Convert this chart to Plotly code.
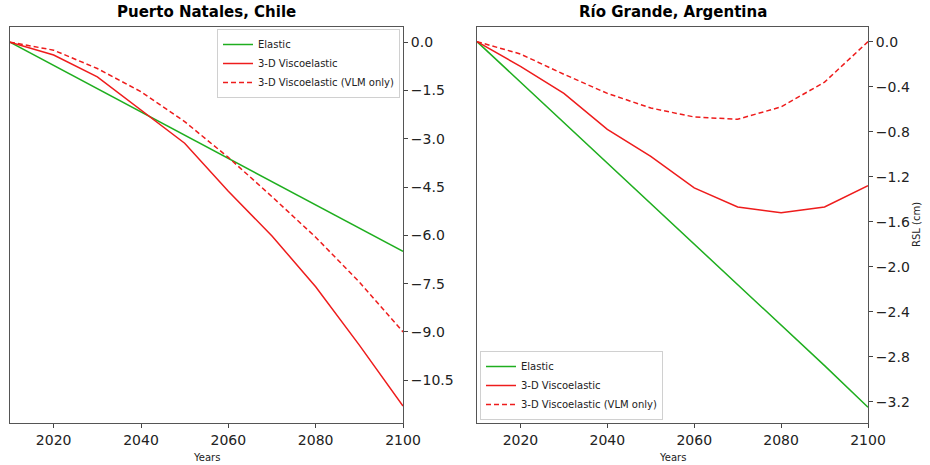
import plotly.graph_objects as go

years = [2010, 2020, 2030, 2040, 2050, 2060, 2070, 2080, 2090, 2100]

# Puerto Natales, Chile
pn_elastic = [0.0, -0.72, -1.44, -2.17, -2.89, -3.61, -4.33, -5.06, -5.78, -6.5]
pn_visco = [0.0, -0.40, -1.08, -2.11, -3.14, -4.63, -6.02, -7.6, -9.41, -11.3]
pn_visco_vlm = [0.0, -0.25, -0.82, -1.54, -2.47, -3.58, -4.8, -6.06, -7.45, -9.0]

# Rio Grande, Argentina
rg_elastic = [0.0, -0.36, -0.72, -1.08, -1.44, -1.80, -2.16, -2.52, -2.88, -3.25]
rg_visco = [0.0, -0.22, -0.46, -0.78, -1.02, -1.30, -1.47, -1.52, -1.47, -1.28]
rg_visco_vlm = [0.0, -0.11, -0.29, -0.46, -0.59, -0.67, -0.69, -0.58, -0.36, 0.0]

names = ["Elastic", "3-D Viscoelastic", "3-D Viscoelastic (VLM only)"]
left_ticks = [0.0, -1.5, -3.0, -4.5, -6.0, -7.5, -9.0, -10.5]
right_ticks = [0.0, -0.4, -0.8, -1.2, -1.6, -2.0, -2.4, -2.8, -3.2]
xticks = [2020, 2040, 2060, 2080, 2100]

GREEN = "#1fae1f"
RED = "#ee1c1c"
FONT = "DejaVu Sans"

fig = go.Figure()

def add_set(el, vi, vl, xa, ya, leg):
    fig.add_trace(go.Scatter(x=years, y=el, mode="lines", name=names[0],
                             line=dict(color=GREEN, width=1.5), xaxis=xa, yaxis=ya, legend=leg))
    fig.add_trace(go.Scatter(x=years, y=vi, mode="lines", name=names[1],
                             line=dict(color=RED, width=1.5), xaxis=xa, yaxis=ya, legend=leg))
    fig.add_trace(go.Scatter(x=years, y=vl, mode="lines", name=names[2],
                             line=dict(color=RED, width=1.5, dash="5px,3px"), xaxis=xa, yaxis=ya, legend=leg))

add_set(pn_elastic, pn_visco, pn_visco_vlm, "x", "y", "legend")
add_set(rg_elastic, rg_visco, rg_visco_vlm, "x2", "y2", "legend2")

W, H = 930, 465

def px(x):
    return x / W

def py(y):
    return 1 - y / H

ydom = [py(423), py(27)]
axis_common = dict(showgrid=False, zeroline=False, showline=True, linecolor="#555555",
                   linewidth=1, mirror=True, ticks="outside", ticklen=4, tickcolor="#444444",
                   automargin=False,
                   tickfont=dict(family=FONT, size=14, color="#222222"))

fig.update_layout(
    width=W, height=H,
    margin=dict(l=0, r=0, t=0, b=0),
    plot_bgcolor="white", paper_bgcolor="white",
    font=dict(family=FONT, color="#222222"),
    xaxis=dict(domain=[px(10), px(403)], range=[2010, 2100], tickvals=xticks,
               anchor="y", **axis_common),
    yaxis=dict(domain=ydom, range=[-11.83, 0.47], tickvals=left_ticks, tickformat=".1f",
               side="right", anchor="x", **axis_common),
    xaxis2=dict(domain=[px(477), px(868)], range=[2010, 2100], tickvals=xticks,
                anchor="y2", **axis_common),
    yaxis2=dict(domain=ydom, range=[-3.39, 0.13], tickvals=right_ticks, tickformat=".1f",
                side="right", anchor="x2", **axis_common),
    legend=dict(x=px(400), y=py(29), xanchor="right", yanchor="top",
                bgcolor="rgba(255,255,255,0.9)", bordercolor="#d0d0d0", borderwidth=1,
                font=dict(family=FONT, size=10, color="#222222"), itemwidth=30,
                tracegroupgap=0),
    legend2=dict(x=px(480), y=py(420), xanchor="left", yanchor="bottom",
                 bgcolor="rgba(255,255,255,0.9)", bordercolor="#d0d0d0", borderwidth=1,
                 font=dict(family=FONT, size=10, color="#222222"), itemwidth=30,
                 tracegroupgap=0),
    annotations=[
        dict(text="<b>Puerto Natales, Chile</b>", x=px((10 + 403) / 2), y=py(12),
             xref="paper", yref="paper", showarrow=False, xanchor="center", yanchor="middle",
             font=dict(family=FONT, size=15, color="black")),
        dict(text="<b>Río Grande, Argentina</b>", x=px((477 + 868) / 2), y=py(12),
             xref="paper", yref="paper", showarrow=False, xanchor="center", yanchor="middle",
             font=dict(family=FONT, size=15, color="black")),
        dict(text="Years", x=px((10 + 403) / 2), y=py(457), xref="paper", yref="paper",
             showarrow=False, xanchor="center", yanchor="middle",
             font=dict(family=FONT, size=10, color="#222222")),
        dict(text="Years", x=px((477 + 868) / 2), y=py(457), xref="paper", yref="paper",
             showarrow=False, xanchor="center", yanchor="middle",
             font=dict(family=FONT, size=10, color="#222222")),
        dict(text="RSL (cm)", x=px(916), y=py(225), xref="paper", yref="paper",
             showarrow=False, xanchor="center", yanchor="middle", textangle=-90,
             font=dict(family=FONT, size=10, color="#222222")),
    ],
)

fig.write_html(
    "out.html",
    config={"displayModeBar": False},
    post_script="document.body.style.margin='0px';document.body.style.overflow='hidden';",
)
